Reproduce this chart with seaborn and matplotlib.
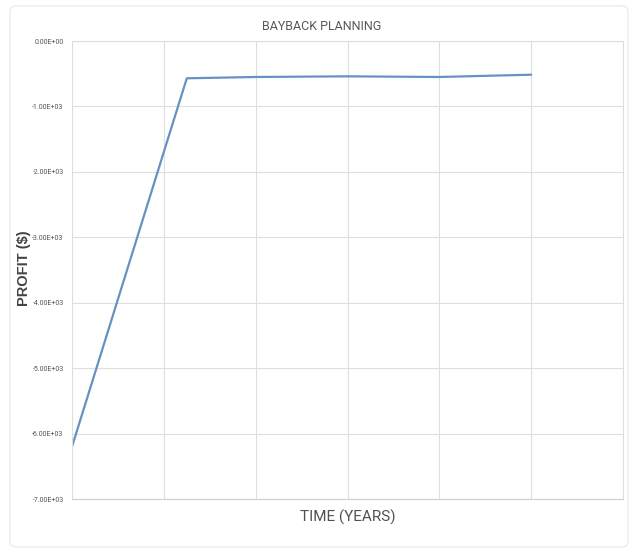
import matplotlib
matplotlib.use("Agg")
import matplotlib.pyplot as plt
from matplotlib.ticker import FuncFormatter, MultipleLocator
from matplotlib.patches import FancyBboxPatch
import seaborn as sns
import pandas as pd

# Data
years = [0, 1.25, 2, 3, 4, 5]
profit = [-6200, -570, -550, -540, -550, -515]
title = "BAYBACK PLANNING"
xlabel = "TIME (YEARS)"
ylabel = "PROFIT ($)"

sns.set_style("white")
plt.rcParams['font.family'] = ['Roboto', 'DejaVu Sans']

fig = plt.figure(figsize=(6.33, 5.53), dpi=100)
ax = fig.add_axes([72/633, 1-499/553, (623-72)/633, (499-41)/553])

# faint outer chart border
fig.patches.append(FancyBboxPatch((10/633, 6/553), 618/633, 541/553,
                                  boxstyle="round,pad=0,rounding_size=0.01",
                                  transform=fig.transFigure, fill=False,
                                  edgecolor="#ececec", linewidth=1.0))

df = pd.DataFrame({"year": years, "profit": profit})
sns.lineplot(data=df, x="year", y="profit", ax=ax, color="#6891c3",
             linewidth=1.6, sort=False)

ax.set_xlim(0, 6)
ax.set_ylim(-7000, 0)
ax.xaxis.set_major_locator(MultipleLocator(1))
ax.yaxis.set_major_locator(MultipleLocator(1000))
ax.yaxis.set_major_formatter(FuncFormatter(lambda v, p: f"{v:.2E}"))
ax.set_xticklabels([])
ax.tick_params(axis="both", length=0)
ax.tick_params(axis="y", labelsize=5, labelcolor="#555555", pad=6)
ax.grid(True, color="#dedede", linewidth=0.8)
for s in ax.spines.values():
    s.set_color("#dedede")
    s.set_linewidth(0.8)
ax.spines["bottom"].set_color("#cfcfcf")

ax.set_xlabel("")
ax.set_ylabel("")
fig.text(348/633, 1-517/553, xlabel, ha="center", va="center", fontsize=11,
         color="#505050")
fig.text(24/633, 1-268/553, ylabel, ha="center", va="center", rotation=90,
         fontsize=10.5, color="#444444", fontweight="bold",
         family=['Liberation Sans', 'DejaVu Sans'])
fig.text(322/633, 1-27/553, title, ha="center", va="center", fontsize=9,
         color="#595959")

fig.savefig("out.png", dpi=100)
